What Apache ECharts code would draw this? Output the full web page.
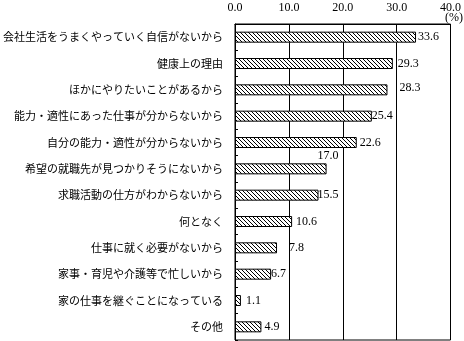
<!DOCTYPE html>
<html>
<head>
<meta charset="utf-8">
<script src="https://cdn.jsdelivr.net/npm/echarts@6/dist/echarts.min.js"></script>
<style>
  html, body { margin: 0; padding: 0; background: #fff; }
  #chart { width: 464px; height: 341px; }
</style>
</head>
<body>
<div id="chart"></div>
<script>
// Reasons for not working (%), top to bottom
const categories = [
  '会社生活をうまくやっていく自信がないから',
  '健康上の理由',
  'ほかにやりたいことがあるから',
  '能力・適性にあった仕事が分からないから',
  '自分の能力・適性が分からないから',
  '希望の就職先が見つかりそうにないから',
  '求職活動の仕方がわからないから',
  '何となく',
  '仕事に就く必要がないから',
  '家事・育児や介護等で忙しいから',
  '家の仕事を継ぐことになっている',
  'その他'
];
const values = [33.6, 29.3, 28.3, 25.4, 22.6, 17.0, 15.5, 10.6, 7.8, 6.7, 1.1, 4.9];
const axisTicks = [0, 10, 20, 30, 40];

// Gap between each bar end and its value label
const labelGap = [2, 5, 12, 0, 3, 0, -1, 4, 12, 0, 5, 3];

// Diagonal hatch fill
function hatch() {
  const c = document.createElement('canvas');
  c.width = 4; c.height = 4;
  const g = c.getContext('2d');
  g.fillStyle = '#fff';
  g.fillRect(0, 0, 4, 4);
  g.fillStyle = '#000';
  for (let i = 0; i < 4; i++) g.fillRect(i, i, 1, 1);
  return { image: c, repeat: 'repeat' };
}
const hatchFill = hatch();

const serif = '"Liberation Serif", "DejaVu Serif", serif';

const barData = values.map((v, i) => {
  const item = { value: v, label: { distance: labelGap[i] } };
  if (i === 5) item.label = { distance: 0, offset: [-9, -13] };
  if (i === 2) item.label.offset = [0, -2];
  return item;
});

const chart = echarts.init(document.getElementById('chart'), null, { renderer: 'canvas' });
chart.setOption({
  animation: false,
  backgroundColor: '#fff',
  grid: {
    left: 235, right: 12, top: 24, bottom: 1,
    show: true, borderColor: '#000', borderWidth: 1, backgroundColor: 'transparent'
  },
  xAxis: {
    type: 'value',
    position: 'top',
    min: axisTicks[0],
    max: axisTicks[axisTicks.length - 1],
    interval: axisTicks[1] - axisTicks[0],
    axisLine: { show: true, lineStyle: { color: '#000', width: 1 } },
    axisTick: { show: false },
    splitLine: { show: true, lineStyle: { color: '#000', width: 1 } },
    axisLabel: {
      color: '#000', fontFamily: serif, fontSize: 12, margin: 10,
      formatter: v => v.toFixed(1)
    }
  },
  yAxis: {
    type: 'category',
    data: categories,
    inverse: true,
    axisLine: { show: true, lineStyle: { color: '#000', width: 1 } },
    axisTick: { show: true, inside: true, length: 3, lineStyle: { color: '#000' } },
    axisLabel: {
      color: '#000', fontFamily: '"Noto Sans CJK JP", sans-serif', fontSize: 11, margin: 12
    }
  },
  series: [{
    type: 'bar',
    data: barData,
    barWidth: 11,
    itemStyle: { color: hatchFill, borderColor: '#000', borderWidth: 1 },
    label: {
      show: true,
      position: 'right',
      color: '#000',
      fontFamily: serif,
      fontSize: 12,
      formatter: p => p.value.toFixed(1)
    }
  }],
  graphic: [{
    type: 'text',
    left: 445, top: 12,
    style: { text: '(%)', fill: '#000', font: '12px ' + serif }
  }]
});
</script>
</body>
</html>
